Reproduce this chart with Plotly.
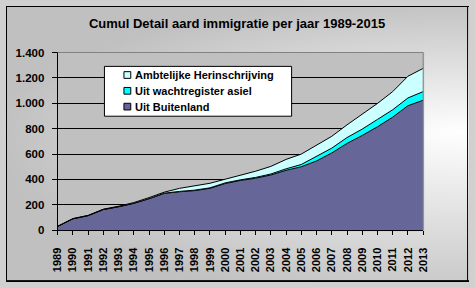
import base64
import struct
import zlib

import numpy as np
import plotly.graph_objects as go

# ---------------- data ----------------
years = list(range(1989, 2014))
year_labels = [str(y) for y in years]
buitenland = [30, 90, 115, 163, 185, 212, 248, 290, 303, 312, 330, 368, 392,
              410, 435, 472, 500, 546, 609, 684, 747, 815, 891, 981, 1024]
wachtregister = [0, 0, 0, 0, 0, 0, 1, 2, 3, 4, 4, 5, 5,
                 6, 8, 12, 18, 38, 38, 46, 50, 58, 58, 61, 68]
ambtelijke = [2, 2, 2, 3, 4, 6, 8, 8, 24, 34, 36, 29, 36,
              49, 60, 74, 82, 88, 93, 100, 114, 126, 143, 171, 183]
series_names = ["Uit Buitenland", "Uit wachtregister asiel", "Ambtelijke Herinschrijving"]
series_colors = ["#666699", "#00FFFF", "#CCFFFF"]
y_ticks = [0, 200, 400, 600, 800, 1000, 1200, 1400]
title_text = "Cumul Detail aard immigratie per jaar 1989-2015"

# ---------------- geometry (pixels) ----------------
W, H = 475, 288
PX0, PX1 = 53, 428       # plot area left/right
PY0, PY1 = 48.5, 234     # plot area top/bottom


def fx(px):
    return px / W


def fy(py):
    return 1 - py / H


# ---------------- background gradient image ----------------
yy, xx = np.mgrid[0:H, 0:W].astype(float)
dx = (xx - 465) / 480
dy = np.where(yy < 130, (yy - 130) / 140, (yy - 130) / 190)
d = np.clip(np.sqrt(dx ** 2 + dy ** 2), 0, 1)
b = (255 - 63 * d).astype(np.uint8)
img = np.stack([b, b, b], axis=-1)
img[int(PY0):int(PY1) + 1, PX0:PX1 + 1] = 192
img[0, :] = 0
img[H - 2:, :] = 0
img[:, 0] = 0
img[:, W - 2] = 0


def png_bytes(a):
    h, w, _ = a.shape
    raw = b"".join(b"\x00" + a[i].tobytes() for i in range(h))

    def chunk(t, data):
        c = struct.pack(">I", len(data)) + t + data
        return c + struct.pack(">I", zlib.crc32(t + data) & 0xFFFFFFFF)

    return (b"\x89PNG\r\n\x1a\n"
            + chunk(b"IHDR", struct.pack(">IIBBBBB", w, h, 8, 2, 0, 0, 0))
            + chunk(b"IDAT", zlib.compress(raw, 9))
            + chunk(b"IEND", b""))


bg_src = "data:image/png;base64," + base64.b64encode(png_bytes(img)).decode()

# ---------------- figure ----------------
fig = go.Figure()
for name, vals, col in zip(series_names, [buitenland, wachtregister, ambtelijke], series_colors):
    fig.add_trace(go.Scatter(
        x=years, y=vals, name=name, stackgroup="one", mode="lines",
        line=dict(color="black", width=1), fillcolor=col, showlegend=False,
    ))

font_b = dict(family="Liberation Sans, Arial, sans-serif", color="black", weight="bold")

fig.update_layout(
    width=W, height=H,
    margin=dict(l=0, r=0, t=0, b=0),
    paper_bgcolor="#d0d0d0",
    plot_bgcolor="#C0C0C0",
    separators=",.",
    title=dict(text=title_text, x=fx(237), xanchor="center", y=fy(23), yanchor="middle",
               font=dict(size=13, **font_b)),
    xaxis=dict(
        domain=[fx(PX0), fx(PX1)], range=[years[0], years[-1]],
        tickmode="array", tickvals=years, ticktext=year_labels, tickangle=-90,
        ticks="outside", ticklen=4, tickcolor="black", showgrid=False,
        showline=True, linecolor="black", linewidth=1, zeroline=False,
        tickfont=dict(size=11, **font_b), ticklabelstandoff=8,
    ),
    yaxis=dict(
        domain=[fy(PY1), fy(PY0)], range=[0, 1400],
        tickmode="array", tickvals=y_ticks, tickformat=",d",
        ticks="outside", ticklen=5, tickcolor="black",
        showgrid=True, gridcolor="black", gridwidth=1,
        showline=True, linecolor="black", linewidth=1, zeroline=False,
        tickfont=dict(size=11.5, **font_b), ticklabelstandoff=5,
    ),
    images=[dict(source=bg_src, xref="paper", yref="paper", x=0, y=1,
                 sizex=1, sizey=1, xanchor="left", yanchor="top",
                 sizing="stretch", layer="below")],
)

shapes = []
# top/right gray plot border
shapes.append(dict(type="line", xref="paper", yref="paper",
                   x0=fx(PX0), x1=fx(PX1), y0=fy(PY0), y1=fy(PY0),
                   line=dict(color="#808080", width=1), layer="above"))
shapes.append(dict(type="line", xref="paper", yref="paper",
                   x0=fx(PX1), x1=fx(PX1), y0=fy(PY0), y1=fy(PY1),
                   line=dict(color="#808080", width=1), layer="above"))
# legend box
shapes.append(dict(type="rect", xref="paper", yref="paper",
                   x0=fx(101), x1=fx(293), y0=fy(115), y1=fy(63),
                   fillcolor="white", line=dict(color="black", width=1), layer="above"))
legend_rows = [72, 88.5, 105]
legend_order = [2, 1, 0]
annotations = []
for row_y, idx in zip(legend_rows, legend_order):
    shapes.append(dict(type="rect", xref="paper", yref="paper",
                       x0=fx(121), x1=fx(128), y0=fy(row_y + 3.5), y1=fy(row_y - 3.5),
                       fillcolor=series_colors[idx], line=dict(color="black", width=1),
                       layer="above"))
    annotations.append(dict(text=series_names[idx], xref="paper", yref="paper",
                            x=fx(130), y=fy(row_y), xanchor="left", yanchor="middle",
                            showarrow=False, font=dict(size=11, **font_b)))
fig.update_layout(shapes=shapes, annotations=annotations)

fig.write_html("out.html")
